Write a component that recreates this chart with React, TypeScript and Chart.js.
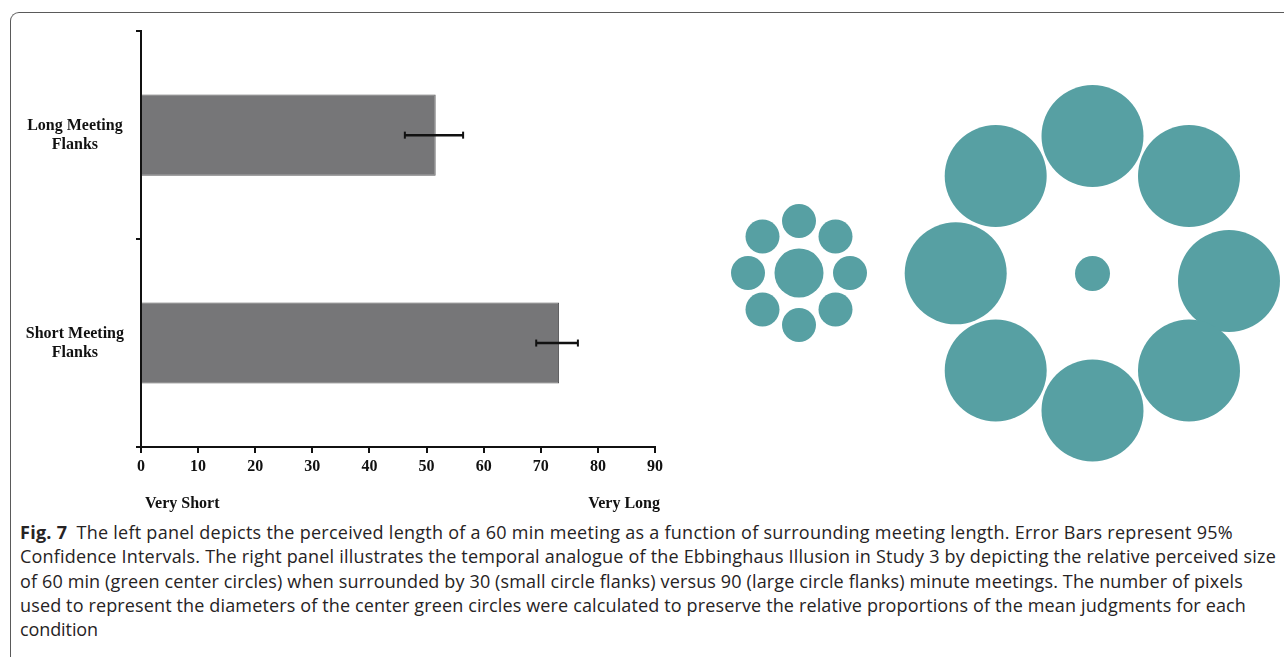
import React, { useEffect, useLayoutEffect, useRef } from "react";
import { Chart, registerables } from "chart.js";

Chart.register(...registerables);

// ---- Left panel: perceived length of a 60 min meeting ----
const categories = [
  ["Long Meeting", "Flanks"],
  ["Short Meeting", "Flanks"],
];
const meanJudgment = [51.6, 73.2];
const ciLower = [46.2, 69.2];
const ciUpper = [56.4, 76.5];
const xMin = 0;
const xMax = 90;
const xStep = 10;
const scaleEndLabels = ["Very Short", "Very Long"];

// ---- Right panel: temporal Ebbinghaus illusion (units of the panel) ----
const smallClusterX = [99, 99, 135.5, 150, 135.5, 99, 62.5, 48, 62.5];
const smallClusterY = [233, 181, 196.5, 233, 269.5, 285, 269.5, 233, 196.5];
const smallClusterR = [24.5, 17, 17, 17, 17, 17, 17, 17, 17];
const largeClusterX = [392.5, 392.5, 489, 529, 489, 392.5, 295.7, 255.7, 295.7];
const largeClusterY = [233.5, 96, 136, 241, 330.5, 370.5, 330.5, 233.3, 136];
const largeClusterR = [17.5, 51, 51, 51, 51, 51, 51, 51, 51];

const captionLead = "Fig. 7";
const captionLines = [
  "The left panel depicts the perceived length of a 60 min meeting as a function of surrounding meeting length. Error Bars represent 95%",
  "Confidence Intervals. The right panel illustrates the temporal analogue of the Ebbinghaus Illusion in Study 3 by depicting the relative perceived size",
  "of 60 min (green center circles) when surrounded by 30 (small circle flanks) versus 90 (large circle flanks) minute meetings. The number of pixels",
  "used to represent the diameters of the center green circles were calculated to preserve the relative proportions of the mean judgments for each",
  "condition",
];
// widths (px) the caption lines occupy in the reference, starting at x = 20
const captionLineWidths = [1213, 1256, 1223, 1226, 78];

const SERIF = '"Liberation Serif", "Times New Roman", serif';
const INK = "#111111";
const TEAL = "#57A0A3";

const errorBarPlugin = {
  id: "errorBars",
  afterDatasetsDraw(chart: any) {
    const meta = chart.getDatasetMeta(0);
    const xs = chart.scales.x;
    const ctx = chart.ctx;
    ctx.save();
    ctx.strokeStyle = INK;
    meta.data.forEach((bar: any, i: number) => {
      const y = bar.y;
      const x0 = xs.getPixelForValue(ciLower[i]);
      const x1 = xs.getPixelForValue(ciUpper[i]);
      ctx.lineWidth = 2.5;
      ctx.beginPath();
      ctx.moveTo(x0, y);
      ctx.lineTo(x1, y);
      ctx.stroke();
      ctx.lineWidth = 2;
      [x0, x1].forEach((xx) => {
        ctx.beginPath();
        ctx.moveTo(xx, y - 3.5);
        ctx.lineTo(xx, y + 3.5);
        ctx.stroke();
      });
    });
    ctx.restore();
  },
};

function toPoints(xs: number[], ys: number[], rs: number[]) {
  return xs.map((x, i) => ({ x, y: ys[i], r: rs[i] }));
}

export default function App() {
  const barRef = useRef<HTMLCanvasElement | null>(null);
  const circRef = useRef<HTMLCanvasElement | null>(null);
  const lineRefs = useRef<(HTMLSpanElement | null)[]>([]);

  useLayoutEffect(() => {
    const fit = () => {
      lineRefs.current.forEach((el, i) => {
        const target = captionLineWidths[i];
        if (!el || !target) return;
        el.style.letterSpacing = "0px";
        const w = el.getBoundingClientRect().width;
        const n = (el.textContent || "").length;
        if (n > 1) el.style.letterSpacing = `${(target - w) / n}px`;
      });
    };
    fit();
    if ((document as any).fonts && (document as any).fonts.ready) {
      (document as any).fonts.ready.then(fit);
    }
  }, []);

  useEffect(() => {
    const font = { family: SERIF, size: 16, weight: "bold" as const };
    const barChart = new Chart(barRef.current as HTMLCanvasElement, {
      type: "bar",
      data: {
        labels: categories as any,
        datasets: [
          {
            data: meanJudgment,
            backgroundColor: "#767678",
            borderColor: "#58585a",
            borderWidth: 1,
            barPercentage: 0.39,
            categoryPercentage: 1,
          },
        ],
      },
      options: {
        indexAxis: "y",
        animation: false,
        responsive: false,
        events: [],
        layout: { padding: { top: 29, right: 45, bottom: 0, left: 0 } },
        plugins: { legend: { display: false }, tooltip: { enabled: false } },
        scales: {
          x: {
            type: "linear",
            min: xMin,
            max: xMax,
            ticks: { stepSize: xStep, color: INK, font, padding: 4, maxRotation: 0 },
            grid: { drawOnChartArea: false, drawTicks: true, tickLength: 6, color: INK, lineWidth: 2 },
            border: { display: true, color: INK, width: 2 },
            afterFit: (s: any) => {
              s.height = 73;
            },
          },
          y: {
            ticks: { crossAlign: "center", padding: 12, color: INK, font },
            grid: { drawOnChartArea: false, drawTicks: true, tickLength: 5, color: INK, lineWidth: 2, offset: true },
            border: { display: true, color: INK, width: 2 },
            afterFit: (s: any) => {
              s.width = 141;
            },
          },
        },
      } as any,
      plugins: [errorBarPlugin],
    });

    const radiusFromUnits = (c: any) => {
      const raw = c.raw;
      const s = c.chart.scales.x;
      if (!raw || !s) return 0;
      return s.getPixelForValue(raw.r) - s.getPixelForValue(0);
    };
    const circChart = new Chart(circRef.current as HTMLCanvasElement, {
      type: "scatter",
      data: {
        datasets: [
          { data: toPoints(smallClusterX, smallClusterY, smallClusterR) },
          { data: toPoints(largeClusterX, largeClusterY, largeClusterR) },
        ],
      },
      options: {
        animation: false,
        responsive: false,
        events: [],
        layout: { padding: 0 },
        elements: {
          point: {
            pointStyle: "circle",
            radius: radiusFromUnits,
            backgroundColor: TEAL,
            borderWidth: 0,
            borderColor: TEAL,
          },
        },
        plugins: { legend: { display: false }, tooltip: { enabled: false } },
        scales: {
          x: { type: "linear", min: 0, max: 584, display: false },
          y: { type: "linear", min: 0, max: 460, reverse: true, display: false },
        },
      } as any,
    });

    return () => {
      barChart.destroy();
      circChart.destroy();
    };
  }, []);

  return (
    <div
      style={{
        position: "fixed",
        left: 0,
        top: 0,
        width: 1284,
        height: 657,
        overflow: "hidden",
        background: "#ffffff",
      }}
    >
      <div
        style={{
          position: "absolute",
          left: 10,
          top: 12,
          width: 1400,
          height: 800,
          borderLeft: "1px solid #5a5a5a",
          borderTop: "1px solid #5a5a5a",
          borderTopLeftRadius: 9,
        }}
      />
      <canvas
        ref={barRef}
        width={700}
        height={520}
        style={{ position: "absolute", left: 0, top: 0, width: 700, height: 520 }}
      />
      <canvas
        ref={circRef}
        width={584}
        height={460}
        style={{ position: "absolute", left: 700, top: 40, width: 584, height: 460 }}
      />
      <div
        style={{
          position: "absolute",
          left: 145,
          top: 493,
          font: `bold 16px ${SERIF}`,
          lineHeight: "19px",
          color: INK,
          whiteSpace: "nowrap",
        }}
      >
        {scaleEndLabels[0]}
      </div>
      <div
        style={{
          position: "absolute",
          right: 1284 - 660,
          top: 493,
          font: `bold 16px ${SERIF}`,
          lineHeight: "19px",
          color: INK,
          whiteSpace: "nowrap",
        }}
      >
        {scaleEndLabels[1]}
      </div>
      <div
        style={{
          position: "absolute",
          left: 20,
          top: 520,
          fontFamily: "'Open Sans', 'Noto Sans', sans-serif",
          fontSize: 18,
          lineHeight: "24.3px",
          color: "#262324",
          whiteSpace: "nowrap",
        }}
      >
        {captionLines.map((line, i) => (
          <div key={i}>
            <span
              ref={(el) => {
                lineRefs.current[i] = el;
              }}
              style={{ display: "inline-block" }}
            >
              {i === 0 ? (
                <>
                  <b>{captionLead}</b>
                  {"\u2002"}
                </>
              ) : null}
              {line}
            </span>
          </div>
        ))}
      </div>
    </div>
  );
}
